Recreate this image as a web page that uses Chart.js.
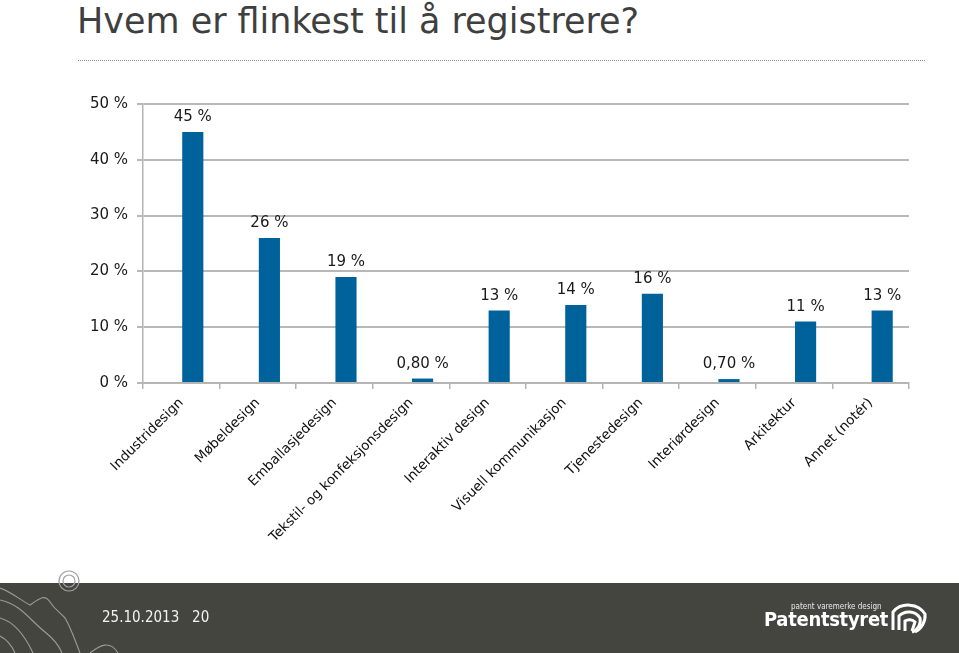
<!DOCTYPE html>
<html>
<head>
<meta charset="utf-8">
<script src="https://cdn.jsdelivr.net/npm/chart.js@4/dist/chart.umd.min.js"></script>
<style>
    html, body { margin: 0; padding: 0; background: #fff; }
    body { width: 959px; height: 653px; position: relative; overflow: hidden; font-family: "DejaVu Sans", Verdana, sans-serif; }
    #title {
        position: absolute; left: 77px; top: 1px;
        font-family: "DejaVu Sans Condensed", "DejaVu Sans", sans-serif;
        font-size: 35px; color: #3f3f3f; white-space: nowrap;
        transform: scaleX(1.11); transform-origin: left top;
    }
    #rule { position: absolute; left: 78px; top: 60px; width: 847px; border-top: 1px dotted #8a8a8a; }
    #wrap { position: absolute; left: 0; top: 86px; width: 959px; height: 484px; }
    #footer { position: absolute; left: 0; top: 583px; width: 959px; height: 70px; background: #45453f; }
    #date {
        position: absolute; left: 102px; top: 608px; color: #f2f2f2;
        font-family: "DejaVu Sans Condensed", "DejaVu Sans", sans-serif; font-size: 15px; white-space: pre;
    }
    #brand { position: absolute; left: 764px; top: 607px; color: #fff; font-family: "DejaVu Sans Condensed", sans-serif; font-weight: bold; font-size: 20px; letter-spacing: -0.3px; }
    #tag { position: absolute; left: 791px; top: 602px; color: #e8e8e8; font-family: "DejaVu Sans Condensed", sans-serif; font-size: 8px; }
    svg { position: absolute; left: 0; top: 0; }
</style>
</head>
<body>
<div id="title">Hvem er flinkest til å registrere?</div>
<div id="rule"></div>
<div id="wrap"><canvas id="chart"></canvas></div>
<div id="footer"></div>
<svg width="959" height="653">
    <circle cx="69" cy="581" r="10" fill="none" stroke="#a0a0a0" stroke-width="1.2"/>
    <circle cx="69" cy="581" r="6" fill="none" stroke="#a0a0a0" stroke-width="1.2"/>
    <g fill="none" stroke="#9a9a94" stroke-width="1.2">
        <path d="M0 588 C12 592 20 600 30 605 C40 598 45 594 50 602 C55 610 60 612 65 618 C70 626 75 640 80 653"/>
        <path d="M0 600 C20 604 30 620 45 632 C55 640 60 648 62 653"/>
        <path d="M0 618 C15 622 25 636 33 653"/>
        <path d="M0 636 C8 640 12 646 15 653"/>
        <path d="M90 653 C100 645 110 640 118 653"/>
    </g>
    <g fill="none" stroke="#fff">
        <path d="M893 630 L893 612 A19 17 0 0 1 925 614 A18 18 0 0 1 915 632" stroke-width="3"/>
        <path d="M899 630 L899 616 A13 12 0 0 1 920 618 A12 12 0 0 1 912 632" stroke-width="3"/>
        <path d="M905 631 L905 621 A7 6 0 0 1 915 622 L912 631" stroke-width="3"/>
    </g>
</svg>
<div id="date">25.10.2013   20</div>
<div id="tag">patent varemerke design</div>
<div id="brand">Patentstyret</div>
<script>
    const categories = [
        "Industridesign", "Møbeldesign", "Emballasjedesign", "Tekstil- og konfeksjonsdesign",
        "Interaktiv design", "Visuell kommunikasjon", "Tjenestedesign", "Interiørdesign",
        "Arkitektur", "Annet (notér)"
    ];
    const values = [45, 26, 19, 0.8, 13, 14, 16, 0.7, 11, 13];
    // empty first series: the original has the bars sitting right of the category centre
    const spacer = [null, null, null, null, null, null, null, null, null, null];
    const yTicks = [0, 10, 20, 30, 40, 50];

    const fmt = (v) => (v < 1 ? v.toFixed(2).replace(".", ",") : String(v)) + " %";

    // value labels above bars
    const valueLabels = {
        id: "valueLabels",
        afterDatasetsDraw(chart) {
            const ctx = chart.ctx;
            const meta = chart.getDatasetMeta(1);
            ctx.save();
            ctx.font = "15px 'DejaVu Sans', Verdana, sans-serif";
            ctx.fillStyle = "#1a1a1a";
            ctx.textAlign = "center";
            ctx.textBaseline = "middle";
            meta.data.forEach((bar, i) => {
                ctx.fillText(fmt(values[i]), bar.x, bar.y - 14.5);
            });
            ctx.restore();
        }
    };

    new Chart(document.getElementById("chart"), {
        type: "bar",
        data: {
            labels: categories,
            datasets: [
                { data: spacer, backgroundColor: "rgba(0,0,0,0)", barPercentage: 0.92, categoryPercentage: 0.6 },
                { data: values, backgroundColor: "#00629b", barPercentage: 0.92, categoryPercentage: 0.6 }
            ]
        },
        options: {
            responsive: true,
            maintainAspectRatio: false,
            animation: false,
            layout: { padding: { top: 13, right: 50, left: 0, bottom: 0 } },
            plugins: { legend: { display: false }, tooltip: { enabled: false } },
            scales: {
                x: {
                    grid: { display: true, drawOnChartArea: false, offset: true, tickLength: 6, color: "#b3b3b3", lineWidth: 1.5 },
                    border: { color: "#b3b3b3", width: 1.5 },
                    ticks: {
                        color: "#111", maxRotation: 45, minRotation: 45, padding: 6,
                        font: { family: "'DejaVu Sans', Verdana, sans-serif", size: 13.5 }
                    },
                    afterFit: (s) => { s.height = 187; }
                },
                y: {
                    min: 0, max: 50,
                    afterBuildTicks: (s) => { s.ticks = yTicks.map((v) => ({ value: v })); },
                    grid: { color: "#b8b8b8", lineWidth: 2, tickLength: 6 },
                    border: { color: "#b3b3b3", width: 1.5 },
                    ticks: {
                        color: "#1a1a1a", padding: 9,
                        font: { family: "'DejaVu Sans', Verdana, sans-serif", size: 15 },
                        callback: (v) => v + " %"
                    },
                    afterFit: (s) => { s.width = 143; }
                }
            }
        },
        plugins: [valueLabels]
    });
</script>
</body>
</html>
